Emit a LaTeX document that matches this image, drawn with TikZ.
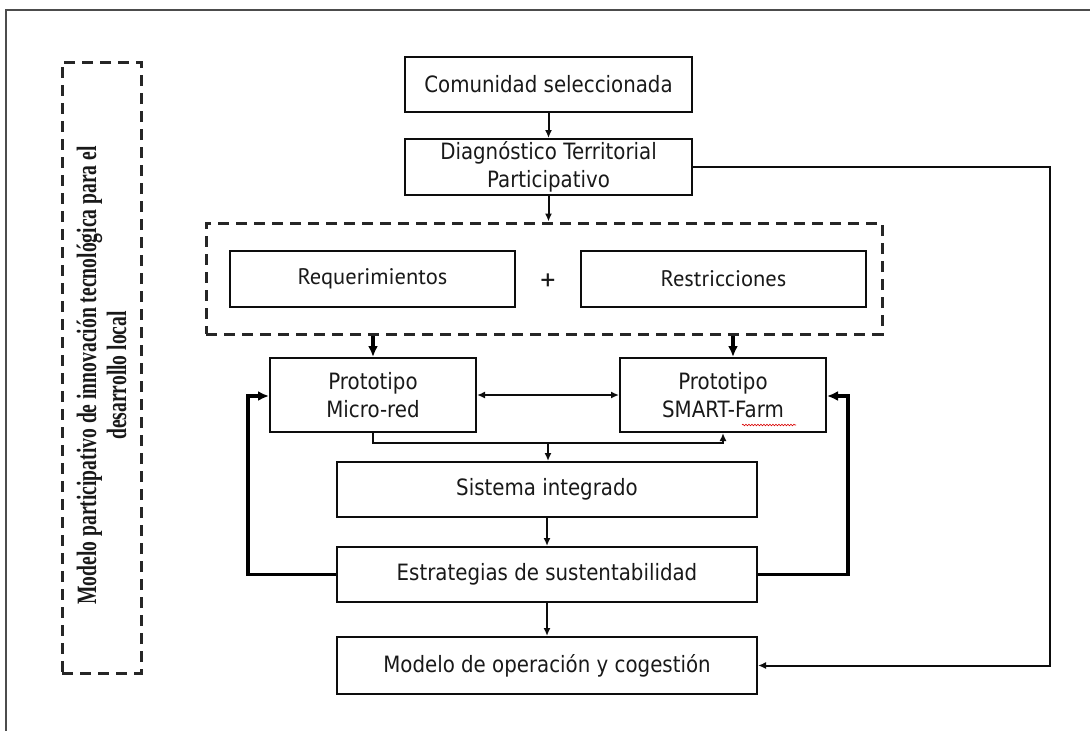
\documentclass[tikz,border=0pt]{standalone}
\usepackage{fontspec}
\setmainfont{DejaVu Sans}[FakeStretch=0.88]
\newfontfamily\reqfont{PT Sans}
\newfontfamily\titlefont{Liberation Serif}[FakeStretch=0.70]
\usetikzlibrary{arrows.meta,decorations.pathmorphing,calc}
\begin{document}
\begin{tikzpicture}[x=1pt,y=-1pt,
  box/.style={draw=black!95, line width=2pt, inner sep=0pt, align=center, text=black!90, font=\fontsize{22.5}{28}\selectfont},
  reqbox/.style={box, font=\reqfont\fontsize{22.5}{26}\selectfont},
  grp/.style={draw=black!85, line width=3pt, dash pattern=on 11pt off 7pt},
  arr/.style={line width=2pt, draw=black!95, -{Latex[length=8pt,width=7pt]}},
  dblarr/.style={line width=2pt, draw=black!95, {Latex[length=8pt,width=7pt]}-{Latex[length=8pt,width=7pt]}},
  tarr/.style={line width=3.5pt, draw=black, -{Latex[length=11pt,width=10pt]}},
  ln/.style={line width=2pt, draw=black!95}]
\useasboundingbox (0,0) rectangle (1090,731);
\draw[line width=2pt, black!70] (6,731) -- (6,10) -- (1090,10);

% side label
\node[grp, minimum width=79pt, minimum height=611pt] (side) at (101.5,367.5) {};
\node[rotate=90, align=center, text=black!90, font=\titlefont\bfseries\fontsize{28}{30}\selectfont] (title) at ($(side.center)+(0,8)$) {Modelo participativo de innovación tecnológica para el\\desarrollo local};

% main boxes
\node[box, minimum width=287pt, minimum height=55pt] (com) at (548.5,84.5) {Comunidad seleccionada};
\node[box, minimum width=287pt, minimum height=56pt] (diag) at (548.5,167) {Diagnóstico Territorial\\Participativo};
\node[grp, minimum width=676pt, minimum height=111pt] (group) at (544,278.5) {};
\node[reqbox, minimum width=285pt, minimum height=56pt] (req) at (372.5,279) {Requerimientos};
\node[reqbox, minimum width=285pt, minimum height=56pt] (res) at (723.5,279) {Restricciones};
\node[font=\reqfont\fontsize{30}{30}\selectfont, text=black!90, inner sep=0pt] (plus) at (548,282) {+};
\node[box, minimum width=206pt, minimum height=74pt] (micro) at (373,395) {Prototipo\\Micro-red};
\node[box, minimum width=206pt, minimum height=74pt] (smart) at (723,395) {Prototipo\\SMART-Farm};
\node[box, minimum width=420pt, minimum height=55pt] (sis) at (547,489.5) {Sistema integrado};
\node[box, minimum width=420pt, minimum height=55pt] (est) at (547,574.5) {Estrategias de sustentabilidad};
\node[box, minimum width=420pt, minimum height=57pt] (mod) at (547,665.5) {Modelo de operación y cogestión};

% spell-check squiggle
\draw[red!85!black, line width=0.6pt, decorate, decoration={snake, amplitude=0.8pt, segment length=3pt}] (742,425) -- (796,425);

% helper coordinates
\coordinate (sdn) at ($(smart.north)+(10,0)$);
\coordinate (mj) at (548,443);
\coordinate (lret) at (248,396);
\coordinate (rret) at (848,396);
\coordinate (fb) at (1050,167);

% connectors
\draw[arr] (com.south) -- (diag.north);
\draw[arr] (diag.south) -- (diag.south |- group.north);
\draw[tarr] (micro.north |- group.south) -- (micro.north);
\draw[tarr] (sdn |- group.south) -- (sdn);
\draw[dblarr] (micro.east) -- (smart.west);
\draw[arr] (micro.south) -- (micro.south |- mj) -- (smart.south |- mj) -- (smart.south);
\draw[arr] (mj) -- (mj |- sis.north);
\draw[arr] (sis.south) -- (est.north);
\draw[arr] (est.south) -- (mod.north);
\draw[tarr] (est.west) -| (lret) -- (lret -| micro.west);
\draw[tarr] (est.east) -| (rret) -- (rret -| smart.east);
\draw[arr] (diag.east) -- (fb) |- (mod.east);
\end{tikzpicture}
\end{document}
